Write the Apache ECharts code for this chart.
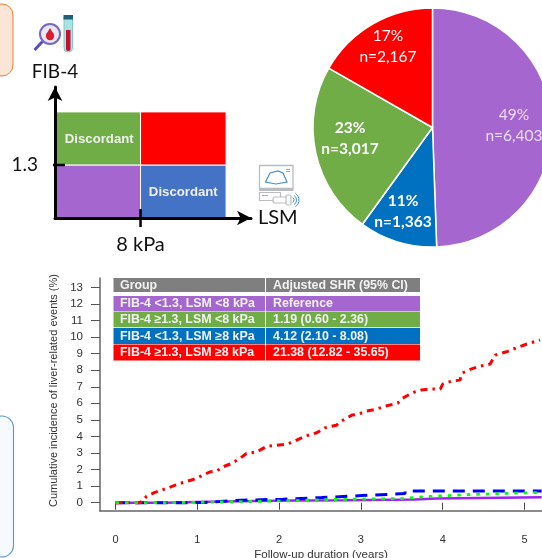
<!DOCTYPE html>
<html><head><meta charset="utf-8">
<script src="https://cdn.jsdelivr.net/npm/echarts@6/dist/echarts.min.js"></script>
<style>html,body{margin:0;padding:0;background:#fff;overflow:hidden}#c{width:542px;height:558px}</style>
</head><body><div id="c"></div>
<script>
// ---------- data ----------
const pieNames = ['FIB-4 <1.3, LSM <8 kPa','FIB-4 <1.3, LSM ≥8 kPa','FIB-4 ≥1.3, LSM <8 kPa','FIB-4 ≥1.3, LSM ≥8 kPa'];
const pieValues = [6403,1363,3017,2167];
const piePercents = ['49%','11%','23%','17%'];
const redCurve = [[0,0],[0.30,0],[0.34,0.15],[0.38,0.39],[0.48,0.62],[0.565,0.76],[0.64,0.89],[0.73,1.06],[0.825,1.22],[0.95,1.40],[1.07,1.66],[1.155,1.86],[1.24,1.92],[1.31,2.16],[1.42,2.37],[1.52,2.67],[1.60,2.97],[1.73,3.07],[1.85,3.41],[1.97,3.47],[2.09,3.53],[2.17,3.67],[2.32,4.02],[2.46,4.22],[2.56,4.52],[2.70,4.68],[2.78,4.98],[2.89,5.29],[2.96,5.33],[3.07,5.53],[3.19,5.65],[3.33,5.87],[3.45,6.01],[3.51,6.31],[3.58,6.50],[3.66,6.69],[3.74,6.80],[3.84,6.86],[3.97,6.86],[4.00,7.16],[4.11,7.34],[4.21,7.40],[4.24,7.82],[4.31,8.01],[4.46,8.25],[4.58,8.37],[4.64,8.91],[4.78,9.11],[4.90,9.35],[5.03,9.58],[5.19,9.82]];
const blueCurve = [[0,0],[0.9,0.02],[1.1,0.07],[1.28,0.15],[1.53,0.21],[2.05,0.31],[2.52,0.43],[3.01,0.55],[3.54,0.70],[5.21,0.70]];
const greenCurve = [[0,0],[0.6,0.03],[1.1,0.07],[1.6,0.12],[2.13,0.19],[2.6,0.25],[3.51,0.35],[3.75,0.39],[3.88,0.50],[4.35,0.62],[5.21,0.62]];
const purpleCurve = [[0,0],[0.6,0.05],[1.0,0.09],[1.5,0.13],[2.2,0.15],[2.83,0.19],[3.66,0.25],[3.93,0.33],[5.21,0.33]];
const xTicks = [0,1,2,3,4,5];
const yTicks = [0,1,2,3,4,5,6,7,8,9,10,11,12,13];
const quadrants = [[0,8,0,1.3,''],[8,16,0,1.3,'Discordant'],[0,8,1.3,2.6,'Discordant'],[8,16,1.3,2.6,'']];
const lsmCut = [8];
const fibCut = [1.3];
const tableHeader = ['Group','Adjusted SHR (95% CI)'];
const tableGroups = ['FIB-4 <1.3, LSM <8 kPa','FIB-4 ≥1.3, LSM <8 kPa','FIB-4 <1.3, LSM ≥8 kPa','FIB-4 ≥1.3, LSM ≥8 kPa'];
const tableShr = ['Reference','1.19 (0.60 - 2.36)','4.12 (2.10 - 8.08)','21.38 (12.82 - 35.65)'];
// ---------- styling ----------
const PURPLE='#A566CF',GREEN='#70AD47',BLUE='#0070C0',RED='#FF0000',QBLUE='#4472C4';
const quadColors=[PURPLE,QBLUE,GREEN,RED];
const pieColors=[PURPLE,BLUE,GREEN,RED];
const tableColors=[PURPLE,GREEN,BLUE,RED];
const pieLabelPos=[[514,125],[403,211],[350,138],[388,46]];
const ARIAL='"Liberation Sans",Arial,sans-serif', LATO='Lato,"Open Sans",sans-serif';
const rowY=[[296,15],[311.6,15.6],[328,16],[344.4,16]];

function tableGraphics(){
  const out=[];
  const rect=(x,y,w,h,c)=>out.push({type:'rect',z:50,shape:{x,y,width:w,height:h},style:{fill:c}});
  const txt=(x,y,t,b)=>out.push({type:'text',z:51,x,y,style:{text:t,fill:'#f2f2f2',font:(b?'bold ':'')+'12.4px '+ARIAL,textVerticalAlign:'middle'}});
  rect(113.5,278,151.5,14,'#7F7F7F');rect(266,278,154,14,'#7F7F7F');
  txt(120,286,tableHeader[0],true);txt(273,286,tableHeader[1],true);
  tableGroups.forEach((g,i)=>{
    const [y,h]=rowY[i];
    rect(113.5,y,151.5,h,tableColors[i]);rect(266,y,154,h,tableColors[i]);
    txt(120,y+h/2+.5,g,true);txt(273,y+h/2+.5,tableShr[i],true);
  });
  return out;
}
function icons(){
  const g=(type,shape,style,extra)=>Object.assign({type,shape,style,z:40},extra||{});
  const grey='#B9BCC0',sky='#5B9BD5';
  return [
   g('rect',{x:-10,y:4,width:23,height:72,r:11},{fill:'#FBE5D6',stroke:'#ED7D31',lineWidth:1}),
   g('rect',{x:-10,y:416,width:23.5,height:141,r:13},{fill:'#F6FAFE',stroke:sky,lineWidth:1.2}),
   // magnifier
   g('line',{x1:43,y1:41,x2:34.5,y2:50},{stroke:'#5B4FC0',lineWidth:3}),
   g('circle',{cx:50,cy:34,r:10},{fill:'#E9E6F7',stroke:'#7468C8',lineWidth:2}),
   g('circle',{cx:50,cy:36,r:4.2},{fill:'#D8202F'}),
   g('polygon',{points:[[46.5,34],[50,28],[53.5,34]]},{fill:'#D8202F'}),
   // tube
   g('rect',{x:64,y:17,width:8.5,height:35,r:[0,0,4,4]},{fill:'#A9E3E3',stroke:'#7CCBCB',lineWidth:1}),
   g('rect',{x:66,y:30,width:4.5,height:21,r:[0,0,2,2]},{fill:'#C8102E'}),
   g('rect',{x:63.5,y:15,width:9.5,height:4.5},{fill:'#1F5F78'}),
   // ultrasound
   g('rect',{x:259.5,y:165.5,width:33.5,height:23},{fill:'#fff',stroke:grey,lineWidth:1.3}),
   g('rect',{x:259,y:188.5,width:34.5,height:2.5},{fill:grey}),
   g('polygon',{points:[[265.5,182],[270,173],[278,171],[283,173],[287,182],[276,184]]},{fill:'#fff',stroke:'#4A90C8',lineWidth:1.2}),
   g('line',{x1:286,y1:169.5,x2:290,y2:169.5},{stroke:'#7FB2D8',lineWidth:1}),
   g('line',{x1:286,y1:171.5,x2:290,y2:171.5},{stroke:'#7FB2D8',lineWidth:1}),
   g('rect',{x:259.5,y:192.5,width:21,height:8},{fill:'#fff',stroke:grey,lineWidth:1.2}),
   g('rect',{x:273,y:197,width:14,height:6,r:2},{fill:'#fff',stroke:grey,lineWidth:1.2}),
   g('rect',{x:286,y:195,width:5,height:10,r:1.5},{fill:'#fff',stroke:grey,lineWidth:1.2}),
   g('line',{x1:262,y1:195.5,x2:268,y2:195.5},{stroke:'#7FB2D8',lineWidth:1}),
   g('arc',{cx:291,cy:200,r:3,startAngle:-1,endAngle:1},{stroke:'#4A90C8',fill:'none',lineWidth:1}),
   g('arc',{cx:291,cy:200,r:5.5,startAngle:-1,endAngle:1},{stroke:'#4A90C8',fill:'none',lineWidth:1}),
   g('arc',{cx:291,cy:200,r:8,startAngle:-1,endAngle:1},{stroke:'#4A90C8',fill:'none',lineWidth:1})
  ];
}
const lineSeries=(name,data,color,width,type,step,z)=>({name,type:'line',xAxisIndex:1,yAxisIndex:1,data,step:step?'end':false,showSymbol:false,symbol:'none',z,
  lineStyle:{color,width,type,cap:'butt'},animation:false});
const tickCustom=(xs,ys)=>({type:'line',xAxisIndex:0,yAxisIndex:0,data:xs.map((x,i)=>[x,ys[i]]),symbol:'none',showSymbol:false,clip:false,z:6,lineStyle:{color:'#000',width:2.5},animation:false});

const option={
 animation:false,backgroundColor:'#fff',
 grid:[{left:55,top:87,width:196,height:131,outerBoundsMode:'none'},{left:100,top:278,width:442,height:233,outerBoundsMode:'none'}],
 xAxis:[
  {gridIndex:0,type:'value',min:0,max:18.33,splitLine:{show:false},z:5,
   name:'LSM',nameLocation:'end',nameGap:7,nameTextStyle:{color:'#111',fontFamily:LATO,fontSize:20,verticalAlign:'middle'},
   axisLine:{onZero:false,lineStyle:{color:'#000',width:3},symbol:['none','arrow'],symbolSize:[11,14]},
   axisTick:{show:false},
   axisLabel:{customValues:lsmCut,formatter:'{value} kPa',color:'#111',fontFamily:LATO,fontSize:20,margin:17}},
  {gridIndex:1,type:'value',min:-0.1895,max:5.214,splitLine:{show:false},
   axisLine:{onZero:false,lineStyle:{color:'#666',width:1.5}},axisTick:{show:false},axisLabel:{show:false}},
  {gridIndex:1,type:'value',min:-0.1895,max:5.214,splitLine:{show:false},position:'bottom',offset:2,
   name:'Follow-up duration (years)',nameLocation:'middle',nameGap:36,nameTextStyle:{color:'#333',fontFamily:ARIAL,fontSize:11.5},
   axisLine:{show:false},
   axisTick:{customValues:xTicks,length:7,lineStyle:{color:'#444',width:1}},
   axisLabel:{customValues:xTicks,color:'#333',fontFamily:ARIAL,fontSize:11,margin:21}}
 ],
 yAxis:[
  {gridIndex:0,type:'value',min:0,max:3.21,splitLine:{show:false},z:5,
   name:'FIB-4',nameLocation:'end',nameGap:6,nameTextStyle:{color:'#111',fontFamily:LATO,fontSize:19,align:'center'},
   axisLine:{onZero:false,lineStyle:{color:'#000',width:3},symbol:['none','arrow'],symbolSize:[11,14]},
   axisTick:{show:false},
   axisLabel:{customValues:fibCut,color:'#111',fontFamily:LATO,fontSize:19,margin:17}},
  {gridIndex:1,type:'value',min:-0.5,max:13.565,splitLine:{show:false},
   name:'Cumulative incidence of liver-related events (%)',nameLocation:'middle',nameGap:40,nameRotate:90,
   nameTextStyle:{color:'#333',fontFamily:ARIAL,fontSize:11,padding:[0,0,0,8]},
   axisLine:{onZero:false,lineStyle:{color:'#666',width:1.5}},
   axisTick:{customValues:yTicks,length:9,lineStyle:{color:'#555',width:1}},
   axisLabel:{customValues:yTicks,color:'#333',fontFamily:ARIAL,fontSize:11.5,margin:17}}
 ],
 series:[
  {type:'custom',xAxisIndex:0,yAxisIndex:0,z:2,data:quadrants,
   encode:{x:[0,1],y:[2,3]},
   renderItem(params,api){
     const q=quadrants[params.dataIndex];
     const a=api.coord([q[0],q[3]]),b=api.coord([q[1],q[2]]);
     return {type:'group',children:[
       {type:'rect',shape:{x:a[0],y:a[1],width:b[0]-a[0],height:b[1]-a[1]},style:{fill:quadColors[params.dataIndex],stroke:'#fff',lineWidth:1}},
       {type:'text',x:(a[0]+b[0])/2+(q[0]===0?1.5:0),y:(a[1]+b[1])/2+.5,style:{text:q[4],fill:'#EFEFEF',font:'bold 13.2px '+ARIAL,textAlign:'center',textVerticalAlign:'middle'}}
     ]};
   },animation:false},
  tickCustom([lsmCut[0],lsmCut[0]],[-0.22,0.22]),
  tickCustom([-0.65,0.93],[fibCut[0],fibCut[0]]),
  {type:'pie',center:[432.5,127.5],radius:[0,119.5],startAngle:90,clockwise:true,animation:false,
   itemStyle:{borderColor:'#fff',borderWidth:1.5},
   data:pieValues.map((v,i)=>({name:pieNames[i],value:v,itemStyle:{color:pieColors[i]},
     label:{fontWeight:(i===1||i===2)?'bold':'normal',color:i===0?'#EBDCF5':'#fff'}})),
   label:{show:true,position:'inside',fontFamily:LATO,fontSize:15.5,lineHeight:21,
     formatter:p=>piePercents[p.dataIndex]+'\nn='+p.value.toLocaleString('en-US')},
   labelLine:{show:false},
   labelLayout:p=>({x:pieLabelPos[p.dataIndex][0],y:pieLabelPos[p.dataIndex][1],align:'center',verticalAlign:'middle'})},
  lineSeries('FIB-4 <1.3, LSM <8 kPa',purpleCurve,'#A020F0',2.5,'solid',true,3),
  lineSeries('FIB-4 <1.3, LSM ≥8 kPa',blueCurve,'#0000FF',3,[12,8],true,4),
  lineSeries('FIB-4 ≥1.3, LSM ≥8 kPa',redCurve,'#FF0000',3,[7,5,2.5,5],false,5),
  lineSeries('FIB-4 ≥1.3, LSM <8 kPa',greenCurve,'#00FF00',2.8,[3.5,6],true,6)
 ],
 graphic:{elements:[...icons(),...tableGraphics()]}
};
echarts.init(document.getElementById('c'),null,{renderer:'canvas'}).setOption(option);
</script></body></html>
